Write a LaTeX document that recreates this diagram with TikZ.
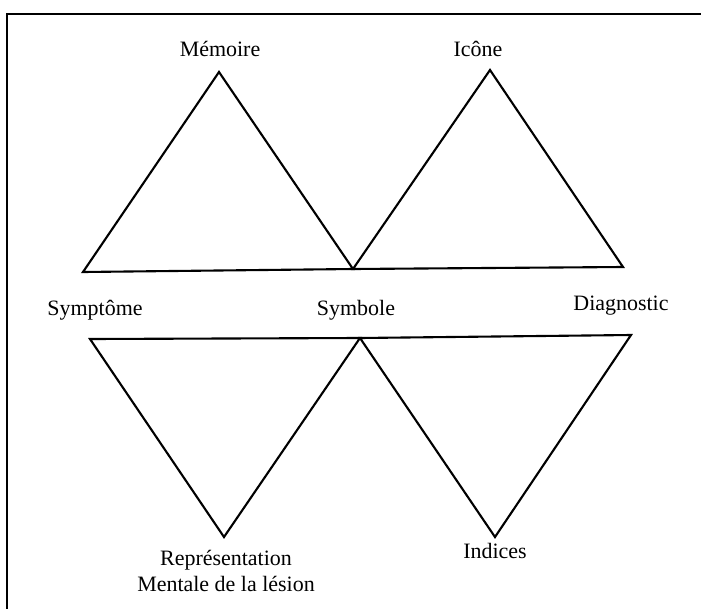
\documentclass[tikz,border=0pt]{standalone}
\usepackage{fontspec}
\setmainfont{Liberation Serif}
\usetikzlibrary{positioning}
\tikzset{
    lbl/.style = {inner sep=0, align=center, font=\fontsize{12.5}{14.5}\selectfont, text=black},
    lblb/.style = {lbl, anchor=base},
    edgen/.style = {-, line width=1.2pt, black, line join=miter},
    framen/.style = {-, line width=1.3pt, black}
}
\begin{document}
\begin{tikzpicture}[x=0.02cm, y=-0.02cm]
\useasboundingbox (0,0) rectangle (701,609);

% frame
\coordinate (ftr) at (701,14);
\coordinate (ftl) at (7,14);
\coordinate (fbl) at (7,609);
\draw[framen] (ftr) -- (ftl) -- (fbl);

% corners
\coordinate (mem) at (219, 72);
\coordinate (ico) at (490, 70);
\coordinate (tl)  at ( 83,272);
\coordinate (tm)  at (353,269);
\coordinate (tr)  at (623,267);
\coordinate (bl)  at ( 90,339);
\coordinate (bm)  at (360,338);
\coordinate (br)  at (631,335);
\coordinate (rep) at (224,537);
\coordinate (ind) at (495,537);

% labels
\node[lblb] at (220, 56) (lmem) {Mémoire};
\node[lblb] at (478, 56) (lico) {Icône};
\node[lblb] at ( 95,315) (lsym) {Symptôme};
\node[lblb] at (356,315) (lsbl) {Symbole};
\node[lblb] at (621,310) (ldia) {Diagnostic};
\node[lbl]  at (226,571) (lrep) {Représentation\\Mentale de la lésion};
\node[lblb] at (495,558) (lind) {Indices};

% triangles
\draw[edgen] (tl) -- (mem) -- (tm) -- cycle;
\draw[edgen] (tm) -- (ico) -- (tr) -- cycle;
\draw[edgen] (bl) -- (bm) -- (rep) -- cycle;
\draw[edgen] (bm) -- (br) -- (ind) -- cycle;

\end{tikzpicture}
\end{document}
